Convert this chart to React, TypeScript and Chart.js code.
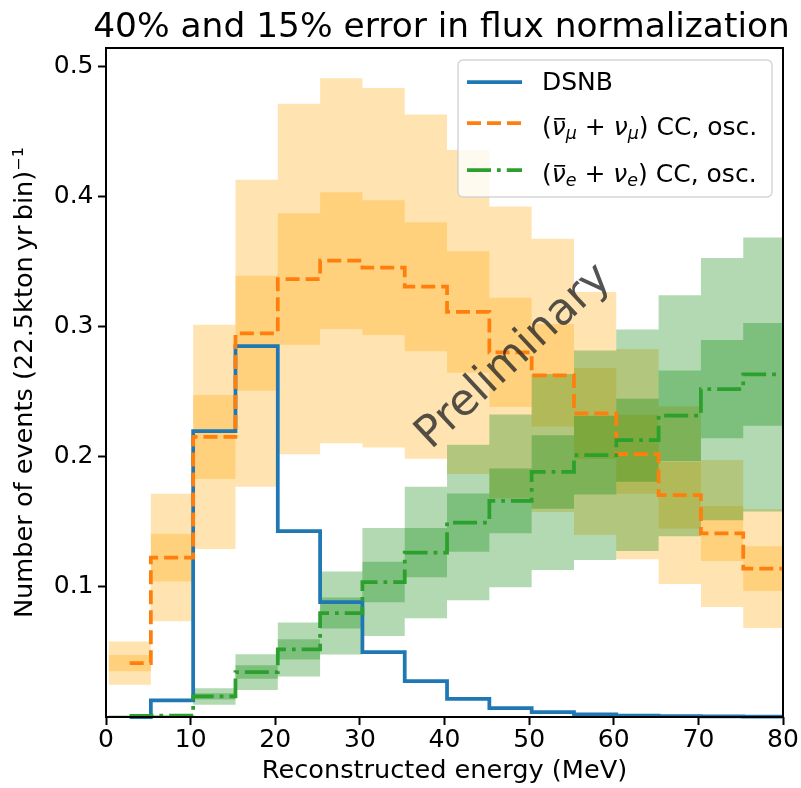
import React, { useEffect, useRef } from 'react';
import { Chart, registerables } from 'chart.js';

Chart.register(...registerables);

// ---- data ----
const binEdges = [0.3, 5.3, 10.3, 15.3, 20.3, 25.3, 30.3, 35.3, 40.3, 45.3, 50.3, 55.3, 60.3, 65.3, 70.3, 75.3, 80.3];
const binCenters = [2.8, 7.8, 12.8, 17.8, 22.8, 27.8, 32.8, 37.8, 42.8, 47.8, 52.8, 57.8, 62.8, 67.8, 72.8, 77.8];
const dsnb = [0.0, 0.0127, 0.2196, 0.285, 0.1429, 0.0883, 0.0499, 0.0276, 0.014, 0.0068, 0.0037, 0.002, 0.001, 0.0007, 0.0004, 0.0002];
const numuCC = [0.0414, 0.1225, 0.2152, 0.2948, 0.3365, 0.3506, 0.3452, 0.3306, 0.3112, 0.2801, 0.2625, 0.2332, 0.2019, 0.1704, 0.141, 0.114];
const nueCC = [0.0008, 0.001, 0.0158, 0.0345, 0.0519, 0.0799, 0.1037, 0.1263, 0.1494, 0.166, 0.1883, 0.2012, 0.2127, 0.2315, 0.2519, 0.2632];
const wideError = 0.40;
const narrowError = 0.15;
const xTicks = [0, 10, 20, 30, 40, 50, 60, 70, 80];
const yTicks = [0.1, 0.2, 0.3, 0.4, 0.5];

const titleText = '40% and 15% error in flux normalization';
const xTitle = 'Reconstructed energy (MeV)';
const yTitle = 'Number of events (22.5kton\u2009yr\u2009bin)\u207B\u00B9';
const watermark = 'Preliminary';

const BLUE = '#1f77b4';
const ORANGE = '#ff7f0e';
const GREEN = '#2ca02c';
const ORANGE_FILL = 'rgba(255,165,0,0.3)';
const GREEN_FILL = 'rgba(0,128,0,0.3)';
const FONT = "'DejaVu Sans', sans-serif";

function bandEdge(values: number[], factor: number) {
  const pts: { x: number; y: number }[] = [];
  values.forEach((v, i) => {
    pts.push({ x: binEdges[i], y: v * factor });
    pts.push({ x: binEdges[i + 1], y: v * factor });
  });
  return pts;
}

function stepLine(values: number[]) {
  const pts = values.map((v, i) => ({ x: binCenters[i], y: v }));
  pts.push({ x: binEdges[binEdges.length - 1], y: values[values.length - 1] });
  return pts;
}

function bandPair(values: number[], err: number, fillColor: string, order: number) {
  const common = {
    borderColor: 'rgba(0,0,0,0)',
    borderWidth: 0,
    pointRadius: 0,
    order,
  };
  return [
    { ...common, data: bandEdge(values, 1 - err), fill: false },
    { ...common, data: bandEdge(values, 1 + err), fill: '-1', backgroundColor: fillColor },
  ];
}

function lineSet(values: number[], color: string, dash: number[], order: number) {
  return {
    data: stepLine(values),
    borderColor: color,
    borderWidth: 3.75,
    borderDash: dash,
    borderCapStyle: 'butt',
    borderJoinStyle: 'miter',
    stepped: 'middle',
    pointRadius: 0,
    fill: false,
    order,
    clip: { left: 0, top: 0, right: 0, bottom: 4 },
  };
}

type Part = { t: string; it?: boolean; sub?: boolean; bar?: boolean };

function drawMath(ctx: CanvasRenderingContext2D, x: number, base: number, parts: Part[], size: number) {
  let cx = x;
  ctx.textAlign = 'left';
  ctx.textBaseline = 'alphabetic';
  for (const p of parts) {
    const fs = p.sub ? size * 0.7 : size;
    ctx.font = `${p.it ? 'italic ' : ''}${fs}px ${FONT}`;
    const y = base + (p.sub ? size * 0.14 : 0);
    ctx.fillText(p.t, cx, y);
    const w = ctx.measureText(p.t).width;
    if (p.bar) {
      ctx.fillRect(cx + size * 0.1, base - size * 0.68, w * 0.78, size * 0.065);
    }
    cx += w;
  }
}

const overlay = {
  id: 'overlay',
  afterDatasetsDraw(chart: any) {
    const ctx: CanvasRenderingContext2D = chart.ctx;
    const xs = chart.scales.x;
    const ys = chart.scales.y;
    ctx.save();
    ctx.translate(xs.getPixelForValue(38.4), ys.getPixelForValue(0.205));
    ctx.rotate((-43 * Math.PI) / 180);
    ctx.font = `44px ${FONT}`;
    ctx.fillStyle = 'rgba(40,40,40,0.8)';
    ctx.textAlign = 'left';
    ctx.textBaseline = 'alphabetic';
    ctx.fillText(watermark, 0, 0);
    ctx.restore();
  },
  afterDraw(chart: any) {
    const ctx: CanvasRenderingContext2D = chart.ctx;
    const a = chart.chartArea;
    ctx.save();
    // spines
    ctx.strokeStyle = '#000';
    ctx.lineWidth = 2;
    ctx.setLineDash([]);
    ctx.strokeRect(a.left, a.top, a.right - a.left, a.bottom - a.top);
    // title
    ctx.fillStyle = '#000';
    ctx.font = `34.4px ${FONT}`;
    ctx.textAlign = 'center';
    ctx.textBaseline = 'alphabetic';
    ctx.fillText(titleText, (a.left + a.right) / 2 - 3, 37);

    // legend
    const bw = 314, bh = 137;
    const bx = a.right - 11 - bw;
    const by = a.top + 12;
    ctx.beginPath();
    ctx.roundRect(bx, by, bw, bh, 5);
    ctx.fillStyle = 'rgba(255,255,255,0.8)';
    ctx.fill();
    ctx.strokeStyle = 'rgba(204,204,204,0.8)';
    ctx.lineWidth = 1.5;
    ctx.stroke();

    const rows: { color: string; dash: number[]; ly: number; base: number; parts: Part[] }[] = [
      { color: BLUE, dash: [], ly: 22, base: 30, parts: [{ t: 'DSNB' }] },
      {
        color: ORANGE, dash: [14, 6], ly: 63, base: 75,
        parts: [{ t: '(' }, { t: 'ν', it: true, bar: true }, { t: 'μ', it: true, sub: true }, { t: ' + ' }, { t: 'ν', it: true }, { t: 'μ', it: true, sub: true }, { t: ')' }, { t: ' CC, osc.' }],
      },
      {
        color: GREEN, dash: [24, 6, 3.75, 6], ly: 110, base: 122,
        parts: [{ t: '(' }, { t: 'ν', it: true, bar: true }, { t: 'e', it: true, sub: true }, { t: ' + ' }, { t: 'ν', it: true }, { t: 'e', it: true, sub: true }, { t: ')' }, { t: ' CC, osc.' }],
      },
    ];
    for (const r of rows) {
      ctx.beginPath();
      ctx.setLineDash(r.dash);
      ctx.lineCap = 'butt';
      ctx.lineWidth = 3.75;
      ctx.strokeStyle = r.color;
      ctx.moveTo(bx + 9, by + r.ly);
      ctx.lineTo(bx + 64, by + r.ly);
      ctx.stroke();
      ctx.setLineDash([]);
      ctx.fillStyle = '#000';
      drawMath(ctx, bx + 84, by + r.base, r.parts, 25);
    }
    ctx.restore();
  },
};

export default function App() {
  const ref = useRef<HTMLCanvasElement>(null);
  useEffect(() => {
    const datasets: any[] = [
      ...bandPair(numuCC, wideError, ORANGE_FILL, 7),
      ...bandPair(numuCC, narrowError, ORANGE_FILL, 6),
      ...bandPair(nueCC, wideError, GREEN_FILL, 5),
      ...bandPair(nueCC, narrowError, GREEN_FILL, 4),
      lineSet(dsnb, BLUE, [], 3),
      lineSet(numuCC, ORANGE, [14, 6], 2),
      lineSet(nueCC, GREEN, [24, 6, 3.75, 6], 1),
    ];
    const tickFont = { family: FONT, size: 25 };
    const labelFont = { family: FONT, size: 25.6 };
    const chart = new Chart(ref.current as HTMLCanvasElement, {
      type: 'line',
      data: { datasets },
      plugins: [overlay],
      options: {
        animation: false,
        responsive: false,
        devicePixelRatio: 1,
        events: [],
        layout: { padding: { top: 48, right: 18, bottom: 0, left: 0 } },
        plugins: {
          legend: { display: false },
          tooltip: { enabled: false },
          title: { display: false },
        },
        scales: {
          x: {
            type: 'linear',
            min: 0,
            max: 80,
            afterBuildTicks: (s: any) => { s.ticks = xTicks.map((v) => ({ value: v })); },
            afterFit: (s: any) => { s.height = 71; },
            ticks: { font: tickFont, color: '#000', padding: 0, maxRotation: 0, autoSkip: false },
            grid: { drawOnChartArea: false, drawTicks: true, tickLength: 8, tickWidth: 2, tickColor: '#000' },
            border: { display: false },
            title: { display: true, text: xTitle, font: labelFont, color: '#000', padding: { top: 0, bottom: 1 } },
          },
          y: {
            type: 'linear',
            min: 0,
            max: 0.514,
            afterBuildTicks: (s: any) => { s.ticks = yTicks.map((v) => ({ value: v })); },
            afterFit: (s: any) => { s.width = 106; },
            ticks: { font: tickFont, color: '#000', padding: 4.5, callback: (v: any) => Number(v).toFixed(1) },
            grid: { drawOnChartArea: false, drawTicks: true, tickLength: 8, tickWidth: 2, tickColor: '#000' },
            border: { display: false },
            title: { display: true, text: yTitle, font: labelFont, color: '#000', padding: { top: 10, bottom: 0 } },
          },
        },
      } as any,
    });
    return () => chart.destroy();
  }, []);
  return (
    <div style={{ position: 'absolute', left: 0, top: 0, width: 801, height: 788, background: '#fff' }}>
      <canvas ref={ref} width={801} height={788} style={{ display: 'block' }} />
    </div>
  );
}
